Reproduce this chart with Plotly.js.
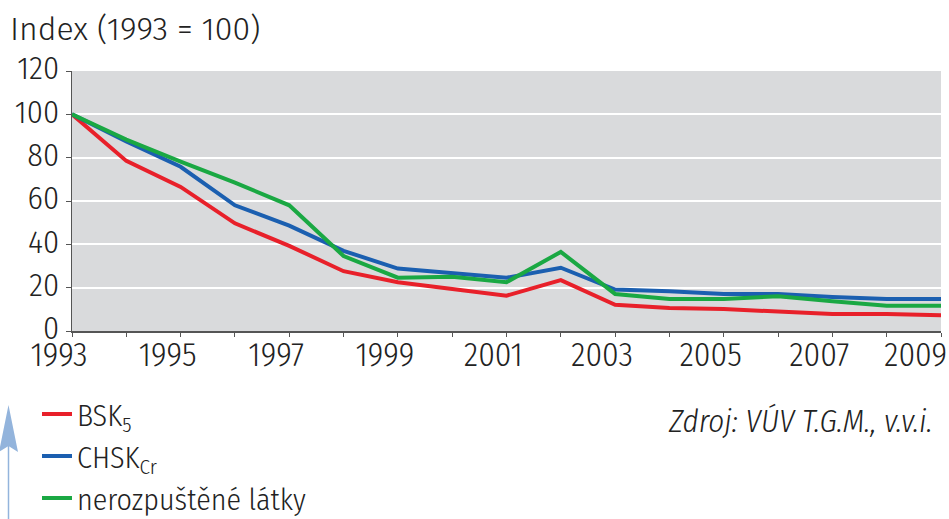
<!DOCTYPE html>
<html>
<head>
<meta charset="utf-8">
<script src="https://cdn.plot.ly/plotly-3.0.1.min.js"></script>
<style>html,body{margin:0;padding:0;background:#fff;}#chart{width:949px;height:519px;}</style>
</head>
<body>
<div id="chart"></div>
<script>
const years = [1993,1994,1995,1996,1997,1998,1999,2000,2001,2002,2003,2004,2005,2006,2007,2008,2009];
const bsk5 = [100,78.5,66.5,49.7,39.3,27.6,22.5,19.5,16.3,23.5,12.1,10.6,10.1,9.0,7.9,7.8,7.3];
const chskCr = [100,87.5,75.8,58,48.6,37,28.8,26.5,24.6,29.2,19.1,18.3,17.1,17.1,15.7,14.8,14.8];
const nerozpustene = [100,88.3,78.2,68.5,58,34.6,24.6,25.0,22.5,36.5,17.1,14.8,14.8,16.0,13.7,11.7,11.7];
const seriesNames = ['BSK<sub>5</sub>','CHSK<sub>Cr</sub>','nerozpuštěné látky'];
const colors = ['#e8202a','#1b5fb0','#1aa843'];
const xTickVals = [1993,1995,1997,1999,2001,2003,2005,2007,2009];
const xTickText = ['1993','1995','1997','1999','2001','2003','2005','2007','2009\u00a0\u00a0\u00a0'];
const yTickVals = [0,20,40,60,80,100,120];

const F = '"Fira Sans Condensed", "Roboto Condensed", sans-serif';
const data = [bsk5, chskCr, nerozpustene].map((v,i)=>({
  x: years, y: v, type:'scatter', mode:'lines', name: seriesNames[i], legendgroup:'g'+i,
  line:{color:colors[i], width:4}
}));

// pixel -> paper helpers (plot area: x 72..941, y 71..331)
const PL=72, PR=941, PT=71, PB=331;
const px = p => (p-PL)/(PR-PL);
const py = p => (PB-p)/(PB-PT);

const layout = {
  width:949, height:519,
  margin:{l:PL, r:949-PR, t:PT, b:519-PB, autoexpand:false},
  paper_bgcolor:'#ffffff', plot_bgcolor:'#d9dadc',
  title:{text:'Index (1993 = 100)', xref:'container', yref:'container', x:10/949, xanchor:'left', y:1-29/519, yanchor:'middle',
    font:{family:'"Fira Sans", sans-serif', size:32, weight:300, color:'#222'}},
  xaxis:{range:[1993,2009], tickvals:xTickVals, ticktext:xTickText, showgrid:false, zeroline:false,
    showline:true, linecolor:'#555', linewidth:1.5, ticks:'outside', ticklen:4, tickcolor:'#555',
    ticklabelshift:-13, ticklabelstandoff:-10, ticklabeloverflow:'allow', automargin:false,
    minor:{dtick:1, tick0:1993, ticks:'outside', ticklen:4, tickcolor:'#555', showgrid:false},
    tickfont:{family:F, size:33, weight:300, color:'#222'}},
  yaxis:{range:[0,120], tickvals:yTickVals, showgrid:true, gridcolor:'#ffffff', gridwidth:2, zeroline:false,
    showline:true, linecolor:'#555', linewidth:1.5, ticks:'outside', ticklen:5, tickcolor:'#555',
    ticklabelshift:-3, ticklabelstandoff:0, automargin:false,
    tickfont:{family:F, size:32, weight:300, color:'#222'}},
  showlegend:true,
  legend:{xref:'container', yref:'container', x:37/949, xanchor:'left', y:1-388/519, yanchor:'top', orientation:'v', traceorder:'grouped',
    maxheight:400,
    font:{family:F, size:30, weight:300, color:'#222'}, itemwidth:30, tracegroupgap:0, bgcolor:'rgba(0,0,0,0)'},
  annotations:[
    {xref:'paper', yref:'paper', x:px(935), y:py(421), xanchor:'right', yanchor:'middle', showarrow:false,
     text:'<i>Zdroj: VÚV T.G.M., v.v.i.</i>', font:{family:F, size:31, weight:300, color:'#222'}}
  ],
  shapes:[
    {type:'line', xref:'paper', yref:'paper', x0:px(8.5), x1:px(8.5), y0:py(519), y1:py(440),
     line:{color:'#93b4dc', width:1.5}},
    {type:'path', xref:'paper', yref:'paper', fillcolor:'#93b4dc', line:{width:0},
     path:`M${px(8.5)},${py(405)} L${px(18)},${py(452)} L${px(8.5)},${py(446)} L${px(-1)},${py(452)} Z`}
  ]
};
Plotly.newPlot('chart', data, layout, {displayModeBar:false, staticPlot:true});
</script>
</body>
</html>
